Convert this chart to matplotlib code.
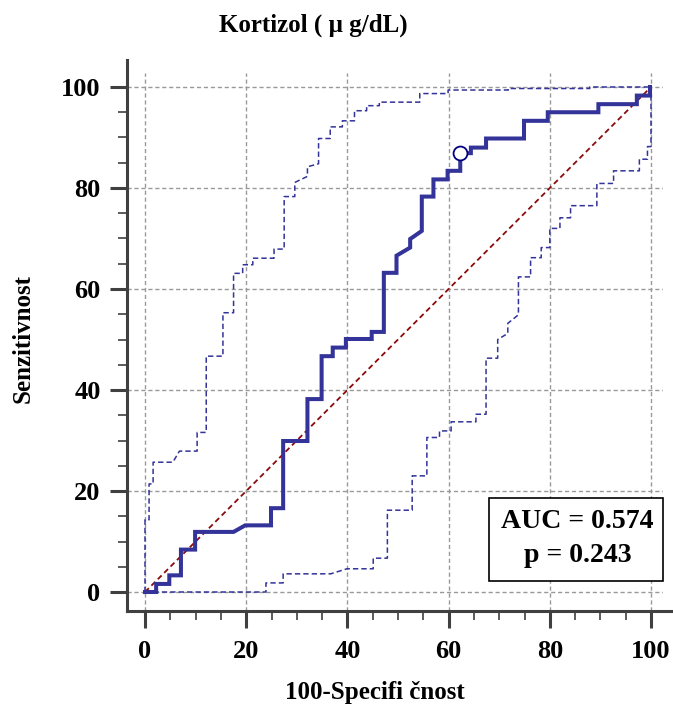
import numpy as np
import matplotlib.pyplot as plt
from matplotlib.patches import Rectangle
from matplotlib.ticker import MultipleLocator

# ROC curve (100-specificity, sensitivity)
roc_x = [0, 2.2, 2.2, 4.8, 4.8, 7.1, 7.1, 9.9, 9.9, 17.5, 19.8, 24.9, 24.9, 27.3, 27.3,
         32.1, 32.1, 34.9, 34.9, 37.1, 37.1, 39.7, 39.7, 44.8, 44.8, 47.2, 47.2, 49.7, 49.7,
         52.4, 52.4, 54.7, 54.7, 57.0, 57.0, 59.8, 59.8, 62.3, 62.3, 64.4, 64.4, 67.4, 67.4,
         74.9, 74.9, 79.6, 79.6, 89.6, 89.6, 97.2, 97.2, 99.8, 99.8]
roc_y = [0, 0, 1.6, 1.6, 3.3, 3.3, 8.4, 8.4, 11.9, 11.9, 13.2, 13.2, 16.6, 16.6, 29.9,
         29.9, 38.2, 38.2, 46.7, 46.7, 48.4, 48.4, 50.1, 50.1, 51.5, 51.5, 63.2, 63.2, 66.6,
         68.2, 69.9, 71.5, 78.3, 78.3, 81.7, 81.7, 83.4, 83.4, 86.9, 86.9, 88.0, 88.0, 89.8,
         89.8, 93.3, 93.3, 95.0, 95.0, 96.6, 96.6, 98.3, 98.3, 100]

# upper 95% confidence bound
up_x = [0, 0, 0.8, 0.8, 1.6, 1.6, 5.5, 6.8, 10.3, 10.3, 12.1, 12.1, 15.4, 15.4, 17.5, 17.5,
        19.3, 19.3, 21.3, 21.3, 25.5, 25.5, 27.5, 27.5, 29.6, 29.6, 32.1, 32.1, 34.3, 34.3,
        36.6, 36.6, 39.0, 39.0, 41.4, 41.4, 43.8, 43.8, 46.3, 46.3, 54.3, 54.3, 59.9, 59.9,
        71.8, 71.8, 87.9, 87.9, 100]
up_y = [0, 14.3, 14.3, 21.4, 21.4, 25.7, 25.7, 27.9, 27.9, 31.6, 31.6, 46.7, 46.7, 55.3,
        55.3, 63.1, 63.1, 64.8, 64.8, 66.1, 66.1, 67.9, 67.9, 78.3, 78.3, 81.1, 82.3, 84.2,
        84.8, 89.8, 89.8, 92.1, 92.1, 93.3, 93.3, 95.3, 95.3, 96.3, 96.3, 97.0, 97.0, 98.7,
        98.7, 99.4, 99.4, 99.7, 99.7, 100, 100]

# lower 95% confidence bound
lo_x = [0, 23.9, 23.9, 27.3, 27.3, 36.7, 39.9, 45.1, 45.1, 47.9, 47.9, 52.8, 52.8, 55.7,
        55.7, 58.2, 58.2, 60.5, 60.5, 65.4, 65.4, 67.4, 67.4, 69.7, 69.7, 71.7, 71.7, 73.8,
        73.8, 76.2, 76.2, 78.3, 78.3, 80.0, 80.0, 82.0, 82.0, 84.1, 84.1, 89.3, 89.3, 92.6,
        92.6, 97.7, 97.7, 99.3, 99.3, 100, 100]
lo_y = [0, 0, 1.8, 1.8, 3.6, 3.6, 4.6, 4.6, 6.7, 6.7, 16.2, 16.2, 23.0, 23.0, 30.6, 30.6,
        31.9, 31.9, 33.7, 33.7, 35.2, 35.2, 46.3, 46.3, 50.0, 51.2, 53.2, 54.9, 62.4, 62.4,
        66.2, 66.2, 68.2, 68.2, 72.0, 72.0, 74.1, 74.1, 76.5, 76.5, 80.9, 80.9, 83.4, 83.4,
        85.7, 85.7, 88.2, 88.2, 100]

cut_x, cut_y = 62.3, 86.9
auc_text = "AUC = 0.574"
p_text = "p = 0.243"
ticks = [0, 20, 40, 60, 80, 100]

plt.rcParams['font.family'] = ['Liberation Serif', 'DejaVu Serif']
plt.rcParams['font.weight'] = 'bold'

W, H = 673, 707
fig = plt.figure(figsize=(W / 100, H / 100), dpi=100)
ax = fig.add_axes([127 / W, 96 / H, 536 / W, 538 / H])

blue = '#333399'
ax.plot(lo_x, lo_y, color=blue, lw=1.1, ls=(0, (3.5, 2)), zorder=3)
ax.plot(up_x, up_y, color=blue, lw=1.1, ls=(0, (3.5, 2)), zorder=3)
ax.plot([0, 100], [0, 100], color='#8b0a0a', lw=1.3, ls=(0, (3, 2)), zorder=3)
ax.plot(roc_x, roc_y, color=blue, lw=2.9, zorder=4, solid_joinstyle='miter')
ax.plot([cut_x], [cut_y], 'o', ms=10, mfc='white', mec='#000080', mew=1.3, zorder=5)

ax.set_xlim(-3.56, 102.37)
ax.set_ylim(-3.76, 102.77)
ax.set_xticks(ticks)
ax.set_yticks(ticks)
ax.xaxis.set_minor_locator(MultipleLocator(5))
ax.yaxis.set_minor_locator(MultipleLocator(5))
ax.grid(True, which='major', color='#999999', ls=(0, (3, 2)), lw=1.0)
ax.set_axisbelow(True)

for s in ['top', 'right']:
    ax.spines[s].set_visible(False)
for s in ['left', 'bottom']:
    ax.spines[s].set_color('#404040')
    ax.spines[s].set_linewidth(2.2)
ax.spines['left'].set_bounds(-3.76, 105.35)
ax.spines['bottom'].set_bounds(-3.56, 104.35)

ax.tick_params(which='major', length=12, width=2.2, color='#404040', labelsize=19, pad=7)
ax.tick_params(which='minor', length=6.5, width=1.2, color='#404040')
ax.tick_params(axis='x', which='major', pad=9)
for lab in ax.get_xticklabels() + ax.get_yticklabels():
    lab.set_fontweight('bold')

fig.text(313 / W, 1 - 25 / H, "Kortizol ( µ g/dL)", ha='center', va='center',
         fontsize=18, fontweight='bold')
fig.text(375 / W, 1 - 693 / H, "100-Specifi čnost", ha='center', va='center',
         fontsize=18, fontweight='bold')
fig.text(23 / W, 1 - 338 / H, "Senzitivnost", ha='center', va='center',
         rotation=90, fontsize=18, fontweight='bold')

fig.patches.append(Rectangle((489 / W, 1 - 581 / H), 174 / W, 83 / H,
                             transform=fig.transFigure, fill=True, fc='white',
                             ec='black', lw=1.2, zorder=6))
fig.text(577 / W, 1 - 521 / H, auc_text, ha='center', va='center',
         fontsize=20, fontweight='bold', zorder=7)
fig.text(578 / W, 1 - 555 / H, p_text, ha='center', va='center',
         fontsize=20, fontweight='bold', zorder=7)

fig.savefig('out.png', dpi=100)
